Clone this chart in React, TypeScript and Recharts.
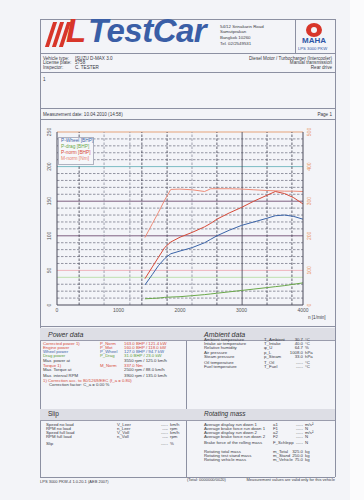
import React from 'react';
import { LineChart, Line, XAxis, YAxis, ReferenceLine } from 'recharts';

// dyno run, values
const rpm = [1430, 1550, 1650, 1750, 1850, 2000, 2200, 2400, 2500, 2600, 2800, 3000, 3200, 3400, 3550, 3700, 3850, 4000];
const pWheel = [29, 44, 57, 67, 74, 78, 83, 90, 95, 100, 108, 115, 120, 125, 129, 130, 128, 124];
const pDrag = [9, 9.5, 10, 11, 11.5, 12, 13.5, 15, 16, 17, 19, 21, 23, 25, 26.5, 28, 30, 32];
const pNorm = [38, 55, 69, 83, 91, 98, 105, 113, 118, 124, 133, 141, 150, 158, 164, 161, 155, 146];
const mNorm = [195, 235, 268, 303, 334, 335, 333, 328, 336, 336, 336, 335, 333, 331, 330, 329, 329, 328];

const rpmTicks = [0, 1000, 2000, 3000, 4000];
const bhpTicks = [0, 50, 100, 150, 200, 250];
const nmTicks = [0, 100, 200, 300, 400, 500];
const bhpGrid = [10, 20, 30, 60, 70, 80, 90, 110, 120, 130, 140, 160, 170, 180, 190, 210, 220, 230, 240];
const colorGrid = [
  { v: 250, c: '#e6a47a' },
  { v: 200, c: '#7cbcc4' },
  { v: 150, c: '#7e5f80' },
  { v: 100, c: '#7e5f80' },
  { v: 50, c: '#efb4bc' },
  { v: 40, c: '#bfe0ae' },
];
const rpmGrid = [
  { v: 360, dark: true }, { v: 765, dark: false }, { v: 1185, dark: false },
  { v: 1380, dark: true }, { v: 1790, dark: true }, { v: 2195, dark: false },
  { v: 2600, dark: true }, { v: 3010, dark: true }, { v: 3415, dark: true }, { v: 3820, dark: true },
];

const legend = [
  { label: 'P-Wheel [BHP]', color: '#3b64a8' },
  { label: 'P-drag [BHP]', color: '#6aa84a' },
  { label: 'P-norm [BHP]', color: '#d64a38' },
  { label: 'M-norm [Nm]', color: '#e8806c' },
];

const data = rpm.map((n, i) => ({ rpm: n, pWheel: pWheel[i], pDrag: pDrag[i], pNorm: pNorm[i], mNorm: mNorm[i] }));

const font = '"Liberation Sans", Arial, sans-serif';

function T({ x, y, s = 4.6, c = '#3a3a44', r, b, i, children }: any) {
  const st: any = {
    position: 'absolute', top: y - s / 2, fontSize: s, lineHeight: 1, color: c,
    whiteSpace: 'nowrap', fontWeight: b ? 700 : 400, fontStyle: i ? 'italic' : 'normal',
  };
  if (r) st.right = 364 - x; else st.left = x;
  return <div style={st}>{children}</div>;
}

const HLine = ({ y, x1 = 40, x2 = 335, c = '#8c90a2' }: any) => (
  <div style={{ position: 'absolute', left: x1, top: y, width: x2 - x1, height: 1, background: c }} />
);
const VLine = ({ x, y1, y2, c = '#8c90a2' }: any) => (
  <div style={{ position: 'absolute', left: x, top: y1, width: 1, height: y2 - y1, background: c }} />
);
const Bar = ({ y, h = 11 }: any) => (
  <div style={{ position: 'absolute', left: 40, top: y, width: 295, height: h, background: '#dddee5', borderBottom: '1px solid #9a9cac' }} />
);

const LeftTick = ({ x, y, payload }: any) => (
  <text x={x} y={y} transform={`rotate(-90 ${x} ${y})`} textAnchor="middle" fontSize={5} fill="#555" fontFamily={font}>
    {payload.value}
  </text>
);
const RightTick = ({ x, y, payload }: any) => (
  <text x={x + 4} y={y} transform={`rotate(-90 ${x + 4} ${y})`} textAnchor="middle" fontSize={5} fill="#e8905a" fontFamily={font}>
    {payload.value}
  </text>
);
const BottomTick = ({ x, y, payload }: any) => (
  <text x={x} y={y + 4} textAnchor="middle" fontSize={5} fill="#555" fontFamily={font}>
    {payload.value}
  </text>
);

function DynoChart() {
  return (
    <LineChart width={364} height={330} data={data} margin={{ top: 132, right: 49, bottom: 13, left: 45 }}>
      <XAxis dataKey="rpm" type="number" domain={[0, 4000]} ticks={rpmTicks} height={12} tickLine={false} tickSize={0} tickMargin={3} tick={<BottomTick />} axisLine={{ stroke: '#4a4a5a' }} />
      <YAxis yAxisId="p" domain={[0, 250]} ticks={bhpTicks} width={12} tickLine={false} tickSize={0} tickMargin={6} tick={<LeftTick />} axisLine={{ stroke: '#4a4a5a' }} />
      <YAxis yAxisId="m" orientation="right" domain={[0, 500]} ticks={nmTicks} width={12} tickLine={false} tickSize={0} tickMargin={4} tick={<RightTick />} axisLine={{ stroke: '#4a4a5a' }} />
      {bhpGrid.map((v) => (
        <ReferenceLine key={'h' + v} yAxisId="p" y={v} stroke="#6a6c7c" strokeWidth={0.7} strokeDasharray="2.5 1.5" />
      ))}
      {colorGrid.map((g) => (
        <ReferenceLine key={'c' + g.v} yAxisId="p" y={g.v} stroke={g.c} strokeWidth={1} />
      ))}
      {rpmGrid.map((g) => (
        <ReferenceLine key={'v' + g.v} yAxisId="p" x={g.v} stroke={g.dark ? '#3c3c4c' : '#8a8c9c'} strokeWidth={0.8} strokeDasharray={g.v === 3010 ? undefined : '2.5 1.5'} />
      ))}
      <Line yAxisId="p" dataKey="pDrag" stroke="#6aa84a" strokeWidth={1} dot={false} isAnimationActive={false} />
      <Line yAxisId="p" dataKey="pWheel" stroke="#3b64a8" strokeWidth={1} dot={false} isAnimationActive={false} />
      <Line yAxisId="m" dataKey="mNorm" stroke="#ee8c78" strokeWidth={1} dot={false} isAnimationActive={false} />
      <Line yAxisId="p" dataKey="pNorm" stroke="#d64a38" strokeWidth={1} dot={false} isAnimationActive={false} />
    </LineChart>
  );
}

export default function App() {
  return (
    <div style={{ position: 'absolute', left: 0, top: 0, width: 364, height: 500, background: '#f3f4f8', fontFamily: font, overflow: 'hidden' }}>
      <div style={{ position: 'absolute', left: 350, top: 0, width: 14, height: 500, background: '#fbfbfc' }} />

      {/* frame */}
      <HLine y={19} />
      <VLine x={40} y1={19} y2={477} />
      <VLine x={335} y1={19} y2={477} />
      <HLine y={53} />
      <HLine y={72} />
      <HLine y={108} />
      <HLine y={119} />
      <HLine y={326} />
      <HLine y={477} />
      <VLine x={295} y1={19} y2={53} />
      <VLine x={186} y1={328} y2={477} />

      {/* logo */}
      {[0, 7, 14].map((d) => (
        <div key={d} style={{ position: 'absolute', left: 49 + d, top: 22, width: 4, height: 25, background: '#d8362a', transform: 'skewX(-18deg)' }} />
      ))}
      <div style={{ position: 'absolute', left: 66, top: 14, fontSize: 33, lineHeight: '33px', fontWeight: 700, fontStyle: 'italic', color: '#d8362a' }}>L</div>
      <div style={{ position: 'absolute', left: 88, top: 14, fontSize: 33, lineHeight: '33px', fontWeight: 700, fontStyle: 'italic', color: '#3a5ea6', letterSpacing: -0.5 }}>TestCar</div>
      <T x={220} y={27} s={4.4}>54/12 Srinakarin Road</T>
      <T x={220} y={32} s={4.4}>Samutprakan</T>
      <T x={220} y={38} s={4.4}>Bangkok 10260</T>
      <T x={220} y={44} s={4.4}>Tel. 02/2549531</T>
      <div style={{ position: 'absolute', left: 306, top: 23, width: 16, height: 14, borderRadius: '50%', background: '#d8362a' }} />
      <div style={{ position: 'absolute', left: 311, top: 27, width: 6, height: 6, borderRadius: '50%', background: '#f3f4f8' }} />
      <T x={302} y={41} s={8} c="#2f57a6" b>MAHA</T>
      <T x={298} y={49} s={4.2} c="#2f57a6">LPS 3000 PKW</T>

      {/* vehicle info */}
      <T x={43} y={59}>Vehicle type:</T>
      <T x={75} y={59}>ISUZU D-MAX 3.0</T>
      <T x={43} y={63.5}>License plate:</T>
      <T x={75} y={63.5}>5758</T>
      <T x={43} y={68}>Inspector:</T>
      <T x={75} y={68}>C. TESTER</T>
      <T x={332} y={59} r>Diesel Motor / Turbocharger (Intercooler)</T>
      <T x={332} y={63.5} r>Manual transmission</T>
      <T x={332} y={68} r>Rear drive</T>
      <T x={43} y={80}>1</T>

      {/* chart */}
      <T x={43} y={115}>Measurement date: 10.04.2010 (14:58)</T>
      <T x={332} y={115} r>Page 1</T>
      <div style={{ position: 'absolute', left: 0, top: 0 }}>
        <DynoChart />
      </div>
      <div style={{ position: 'absolute', left: 58, top: 137, width: 34, height: 26, background: '#f6f7fa', border: '0.5px solid #b0b2c0' }} />
      {legend.map((l, i) => (
        <T key={l.label} x={61} y={141 + i * 6.2} s={4.8} c={l.color}>{l.label}</T>
      ))}
      <T x={308} y={318} s={4.6}>n [1/min]</T>

      {/* power data */}
      <Bar y={328} h={12} />
      <T x={48} y={334} s={7} i c="#333">Power data</T>
      <T x={204} y={334} s={7} i c="#333">Ambient data</T>
      {[
        ['Corrected power 1)', 'P_Norm', '163.0 BHP / 121.4 kW', '#d64a38', 344],
        ['Engine power', 'P_Mot', '160.0 BHP / 118.0 kW', '#d64a38', 348.3],
        ['Wheel power', 'P_Wheel', '127.0 BHP / 94.7 kW', '#3b64a8', 352.4],
        ['Drag power', 'P_Drag', '31.0 BHP / 23.0 kW', '#5a9a3a', 356.6],
        ['Max. power at', '', '3550 rpm / 125.0 km/h', '#3a3a44', 360.7],
        ['Torque 1)', 'M_Norm', '337.0 Nm', '#d64a38', 366],
        ['Max. Torque at', '', '2500 rpm / 88.0 km/h', '#3a3a44', 370.2],
        ['Max. interval RPM', '', '3900 rpm / 135.0 km/h', '#3a3a44', 376],
      ].map(([a, sym, v, c, y]: any) => (
        <React.Fragment key={a}>
          <T x={43} y={y} s={4.3} c={c}>{a}</T>
          <T x={100} y={y} s={4.3} c={c}>{sym}</T>
          <T x={124} y={y} s={4.3} c={c}>{v}</T>
        </React.Fragment>
      ))}
      <T x={43} y={380.7} s={4.3} c="#d64a38">1) Correction acc. to 80/1269/EEC (f_a = 0.80)</T>
      <T x={49} y={385} s={4.3}>Correction factor: C_a = 0.00 %</T>

      {[
        ['Ambient temperature', 'T_Ambient', '30.7', '°C', 340],
        ['Intake air temperature', 'T_Intake', '40.0', '°C', 344.3],
        ['Relative humidity', 'φ_U', '64.7', '%', 348.5],
        ['Air pressure', 'p_L', '1008.0', 'hPa', 352.7],
        ['Steam pressure', 'p_Steam', '33.0', 'hPa', 357],
        ['Oil temperature', 'T_Oil', '---.-', '°C', 363],
        ['Fuel temperature', 'T_Fuel', '---.-', '°C', 367.2],
      ].map(([a, sym, v, u, y]: any) => (
        <React.Fragment key={a}>
          <T x={204} y={y} s={4.3}>{a}</T>
          <T x={264} y={y} s={4.3}>{sym}</T>
          <T x={303} y={y} s={4.3} r>{v}</T>
          <T x={305} y={y} s={4.3}>{u}</T>
        </React.Fragment>
      ))}

      {/* slip / rotating mass */}
      <Bar y={409} h={11} />
      <T x={48} y={414.5} s={6.5} c="#333">Slip</T>
      <T x={204} y={414.5} s={6.5} i c="#333">Rotating mass</T>
      {[
        ['Speed no load', 'V_Leer', '---.-', 'km/h', 425],
        ['RPM no load', 'n_Leer', '----', 'rpm', 429],
        ['Speed full load', 'V_Voll', '---.-', 'km/h', 433],
        ['RPM full load', 'n_Voll', '----', 'rpm', 437.4],
        ['Slip', '', '---.-', '%', 444],
      ].map(([a, sym, v, u, y]: any) => (
        <React.Fragment key={a}>
          <T x={46} y={y} s={4.3}>{a}</T>
          <T x={117} y={y} s={4.3}>{sym}</T>
          <T x={168} y={y} s={4.3} r>{v}</T>
          <T x={170} y={y} s={4.3}>{u}</T>
        </React.Fragment>
      ))}
      {[
        ['Average display run down 1', 'a1', '---.-', 'm/s²', 425],
        ['Average brake force run down 1', 'F1', '---.-', 'N', 429],
        ['Average display run down 2', 'a2', '---.-', 'm/s²', 433],
        ['Average brake force run down 2', 'F2', '---.-', 'N', 437.2],
        ['Brake force of the rolling mass', 'F_Schlepp', '---.-', 'N', 443.5],
        ['Rotating total mass', 'm_Total', '325.0', 'kg', 452],
        ['Rotating test stand mass', 'm_Stand', '250.0', 'kg', 456],
        ['Rotating vehicle mass', 'm_Vehicle', '75.0', 'kg', 460],
      ].map(([a, sym, v, u, y]: any) => (
        <React.Fragment key={a}>
          <T x={204} y={y} s={4.3}>{a}</T>
          <T x={273} y={y} s={4.3}>{sym}</T>
          <T x={303} y={y} s={4.3} r>{v}</T>
          <T x={305} y={y} s={4.3}>{u}</T>
        </React.Fragment>
      ))}

      <T x={40} y={482} s={4}>LPS 3000 PKW-4 1.0.20.1 (AEB 2007)</T>
      <T x={187} y={480} s={4}>(Total: 0000000/0020)</T>
      <T x={335} y={480} s={4} r>Measurement values are valid only for this vehicle</T>
    </div>
  );
}
